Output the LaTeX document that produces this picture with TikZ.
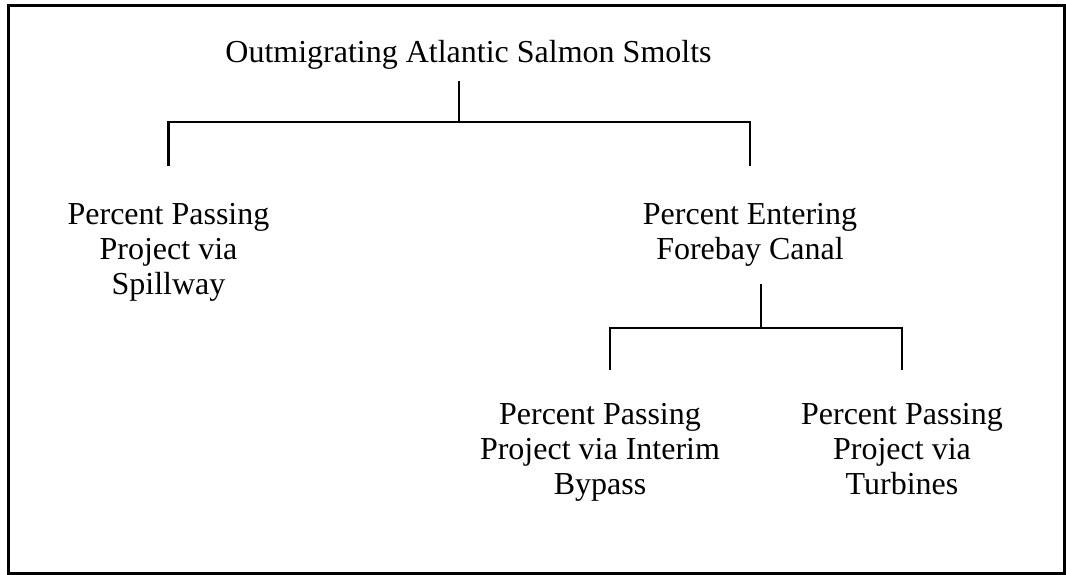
\documentclass[tikz,border=0pt]{standalone}
\usepackage{fontspec}
\setmainfont{Liberation Serif}
\usetikzlibrary{positioning}

\begin{document}
\begin{tikzpicture}[x=1pt,y=-1pt,
  lbl/.style={align=center,inner sep=0pt,font=\fontsize{32}{35}\selectfont},
  tree/.style={line width=2.7pt}]
  \useasboundingbox (0,0) rectangle (1066,575);
  \draw[line width=3pt] (8.5,5.5) rectangle (1064.5,573.5);
  % nodes
  \node[lbl,anchor=base,inner ysep=11pt] (title) at (468.5,63) {Outmigrating Atlantic Salmon Smolts};
  \node[lbl,anchor=north] (spill) at (168.5,203) {Percent Passing\\Project via\\Spillway};
  \node[lbl,anchor=north] (canal) at (750,203) {Percent Entering\\Forebay Canal};
  \node[lbl,anchor=north] (bypass) at (600,403) {Percent Passing\\Project via Interim\\Bypass};
  \node[lbl,anchor=north] (turb) at (902,403) {Percent Passing\\Project via\\Turbines};
  \coordinate (j1) at (459,122);
  \coordinate (j2) at (761,328);
  % brackets
  \draw[tree] (j1 |- title.south) -- (j1);
  \draw[tree,shorten <=37pt,shorten >=37pt] (spill.north) |- (j1) -| (canal.north);
  \draw[tree,shorten <=18pt] (j2 |- canal.south) -- (j2);
  \draw[tree,shorten <=33pt,shorten >=33pt] ([xshift=10pt]bypass.north) |- (j2) -| (turb.north);
\end{tikzpicture}
\end{document}
